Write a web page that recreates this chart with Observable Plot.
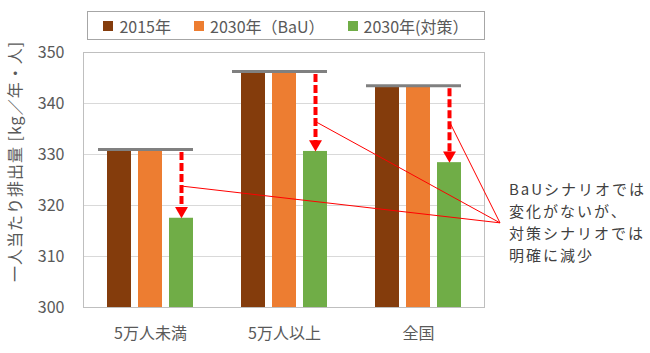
<!DOCTYPE html>
<html><head><meta charset="utf-8">
<script src="https://cdn.jsdelivr.net/npm/d3@7"></script>
<script src="https://cdn.jsdelivr.net/npm/@observablehq/plot@0.6"></script>
<style>
body{margin:0;background:#fff;font-family:"Noto Sans CJK JP","Noto Sans",sans-serif;}
#wrap{position:relative;width:650px;height:353px;overflow:hidden}
#legend{position:absolute;left:87px;top:11px;width:398px;height:29px;box-sizing:border-box;border:1px solid #a6a6a6;display:flex;align-items:center;justify-content:center;gap:23px;font-size:16px;color:#595959;white-space:nowrap;background:#fff;z-index:2}
.item{display:flex;align-items:center;gap:6px}
.sw{width:10px;height:10px;display:inline-block}
#chart{position:absolute;left:0;top:0}
</style></head><body>
<div id="wrap"><div id="chart"></div><div id="legend"></div></div>
<script>
const groups = ["5万人未満","5万人以上","全国"];
const series = ["2015年","2030年（BaU）","2030年(対策）"];
const colors = ["#843C0C","#ED7D31","#70AD47"];
const v2015 = [330.8, 346.1, 343.3];
const vBaU = [330.8, 346.1, 343.3];
const vTaisaku = [317.5, 330.6, 328.4];
const calloutAnchor = [323.7, 336.3, 336.1];
const calloutTarget = 316.5;
const yTicks = [300,310,320,330,340,350];
const yLabel = "一人当たり排出量 [kg／年・人]";
const note = ["BaUシナリオでは","変化がないが、","対策シナリオでは","明確に減少"];

const values = [v2015, vBaU, vTaisaku];
const data = [];
groups.forEach((g,i)=>series.forEach((s,j)=>data.push({group:g, series:s, value:values[j][i]})));
const levels = groups.map((g,i)=>({group:g, value:v2015[i]}));
const arrows = groups.map((g,i)=>({group:g, series:series[2], from:v2015[i], to:vTaisaku[i]}));

// legend
const lg = d3.select("#legend");
series.forEach((s,j)=>{
  const it = lg.append("div").attr("class","item");
  it.append("span").attr("class","sw").style("background",colors[j]);
  it.append("span").text(s);
});

const font = '"Noto Sans CJK JP","Noto Sans",sans-serif';
const chart = Plot.plot({
  width: 650,
  height: 353,
  marginTop: 52,
  marginBottom: 46,
  marginLeft: 83,
  marginRight: 165,
  style: {fontFamily: font, fontSize: "16px", color: "#595959", background: "transparent"},
  fx: {domain: groups, padding: 0, label: null, tickSize: 0, tickPadding: 20, axis: "bottom"},
  x: {domain: series, paddingInner: 0.233, paddingOuter: 0.733, axis: null},
  y: {domain: [yTicks[0], yTicks[yTicks.length-1]], ticks: yTicks, tickSize: 0, tickPadding: 19, label: null},
  color: {domain: series, range: colors},
  marks: [
    Plot.ruleY(yTicks.slice(1, -1), {stroke: "#d9d9d9", strokeWidth: 1}),
    Plot.barY(data, {fx: "group", x: "series", y1: yTicks[0], y2: "value", fill: "series"}),
    Plot.ruleY(levels, {fx: "group", y: "value", stroke: "#808080", strokeWidth: 3, insetLeft: 15, insetRight: 24, dy: -1}),
    Plot.ruleX(arrows, {fx: "group", x: "series", y1: "from", y2: "to", stroke: "#ff0000", strokeWidth: 4, strokeDasharray: "8,3", insetTop: 2, insetBottom: 9}),
    Plot.dot(arrows, {fx: "group", x: "series", y: "to", symbol: "triangle", r: 4.8, fill: "#ff0000", stroke: "none", rotate: 180, dy: -7.5})
  ]
});
document.getElementById("chart").appendChild(chart);

// overlay: frame, callout lines, annotation and y label, placed via Plot's scales
const fxS = chart.scale("fx"), xS = chart.scale("x"), yS = chart.scale("y");
const svg = d3.select(chart);
const pLeft = fxS.range[0], pRight = fxS.range[1];
const pTop = Math.min(...yS.range), pBottom = Math.max(...yS.range);
svg.append("rect").attr("x", pLeft + 0.5).attr("y", pTop + 0.5).attr("width", pRight - pLeft - 1).attr("height", pBottom - pTop)
  .attr("fill", "none").attr("stroke", "#bfbfbf");
const tx = pRight + 15, ty = yS.apply(calloutTarget);
const gl = svg.append("g");
groups.forEach((gr,i)=>{
  const x1 = fxS.apply(gr) - pLeft + xS.apply(series[2]) + xS.bandwidth/2 + 1;
  gl.append("line").attr("x1", x1).attr("y1", yS.apply(calloutAnchor[i])).attr("x2", tx).attr("y2", ty)
    .attr("stroke", "#ff0000").attr("stroke-width", 1);
});
note.forEach((line,k)=>{
  svg.append("text").attr("font-family", font).attr("font-size", 15).attr("fill", "#404040")
    .attr("text-anchor", "start").style("letter-spacing", "2px")
    .attr("x", tx + 9).attr("y", ty + (k - 1.5) * 22 + 1).attr("dominant-baseline", "middle").text(line);
});
svg.append("text").attr("transform", `translate(17,${(pTop+pBottom)/2 - 18}) rotate(-90)`)
  .attr("text-anchor", "middle").attr("dominant-baseline", "middle").style("letter-spacing", "1px")
  .attr("font-family", font).attr("font-size", 16).attr("fill", "#595959").text(yLabel);
</script>
</body></html>
